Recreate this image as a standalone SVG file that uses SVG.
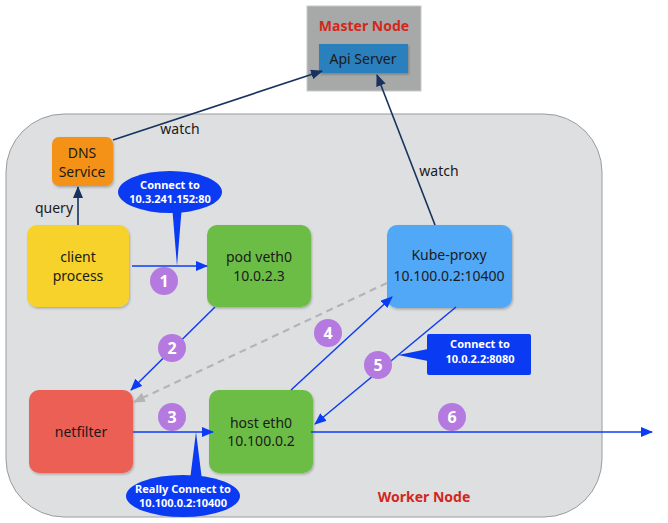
<svg xmlns="http://www.w3.org/2000/svg" width="668" height="523" viewBox="0 0 668 523">
<defs>
<style>
.t{font-family:"Noto Sans","Open Sans","DejaVu Sans",sans-serif;font-size:14px;fill:#1a1a1a;text-anchor:middle}
.b{font-family:"Noto Sans","Open Sans","DejaVu Sans",sans-serif;font-weight:bold;text-anchor:middle}
.w{font-size:11px;fill:#ffffff}
.r{font-size:14px;fill:#d2281a}
.n{stroke:none;filter:url(#sh)}
.num{fill:#b57ae0}
.blue{stroke:#0b3cf5;stroke-width:1.5;fill:none;marker-end:url(#ab)}
.navy{stroke:#17325e;stroke-width:1.6;fill:none;marker-end:url(#an)}
</style>
<filter id="sh" x="-10%" y="-10%" width="130%" height="130%">
<feDropShadow dx="1" dy="1.5" stdDeviation="1.2" flood-color="#000" flood-opacity="0.25"/>
</filter>
<marker id="ab" markerWidth="12" markerHeight="10" refX="11" refY="5" orient="auto" markerUnits="userSpaceOnUse"><path d="M0,0 L12,5 L0,10 Z" fill="#0b3cf5"/></marker>
<marker id="an" markerWidth="12" markerHeight="10" refX="11" refY="5" orient="auto" markerUnits="userSpaceOnUse"><path d="M0,0 L12,5 L0,10 Z" fill="#17325e"/></marker>
<marker id="ag" markerWidth="12" markerHeight="10" refX="11" refY="5" orient="auto" markerUnits="userSpaceOnUse"><path d="M0,0 L12,5 L0,10 Z" fill="#b4b4b4"/></marker>
</defs>
<rect width="668" height="523" fill="#ffffff"/>

<g id="worker-node">
<rect x="6" y="114" width="596" height="403" rx="58" ry="58" fill="#dedfe1" stroke="#9a9b9d" stroke-width="1"/>
<text class="b r" x="424" y="502">Worker Node</text>
</g>

<g id="master-node">
<rect x="307" y="6" width="114" height="85" fill="#a7a9a9" stroke="#c8c8c8" stroke-width="1"/>
<text class="b r" x="364" y="31">Master Node</text>
</g>

<g id="api-server">
<rect class="n" x="319" y="44" width="89" height="29" fill="#2c7fbd"/>
<text class="t" x="363" y="64">Api Server</text>
</g>

<g id="dns-service">
<rect class="n" x="52" y="137" width="61" height="49" rx="7" fill="#f39219"/>
<text class="t" x="82" y="158">DNS</text>
<text class="t" x="82" y="177">Service</text>
</g>

<g id="client-process">
<rect class="n" x="27" y="225" width="102" height="82" rx="10" fill="#f6d22a"/>
<text class="t" x="78" y="262">client</text>
<text class="t" x="78" y="281">process</text>
</g>

<g id="pod-veth0">
<rect class="n" x="207" y="225" width="104" height="82" rx="10" fill="#6cbd44"/>
<text class="t" x="259" y="262">pod veth0</text>
<text class="t" x="259" y="281">10.0.2.3</text>
</g>

<g id="kube-proxy">
<rect class="n" x="387" y="225" width="125" height="83" rx="10" fill="#51a8f6"/>
<text class="t" x="449" y="260">Kube-proxy</text>
<text class="t" x="449" y="281">10.100.0.2:10400</text>
</g>

<g id="netfilter">
<rect class="n" x="29" y="390" width="104" height="83" rx="10" fill="#eb5e55"/>
<text class="t" x="81" y="437">netfilter</text>
</g>

<g id="host-eth0">
<rect class="n" x="209" y="390" width="104" height="83" rx="10" fill="#6cbd44"/>
<text class="t" x="261" y="428">host eth0</text>
<text class="t" x="261" y="446">10.100.0.2</text>
</g>

<g id="connectors">
<path class="navy" d="M113,140 L322,71"/>
<text class="t" x="180" y="134">watch</text>
<path class="navy" d="M78,225 L78,187"/>
<text class="t" x="54" y="213">query</text>
<path class="navy" d="M435,225 L377,75"/>
<text class="t" x="439" y="176">watch</text>
<path class="blue" d="M132,266 L207,266"/>
<path class="blue" d="M215,307 L131,390"/>
<path d="M387,283 L134,402" stroke="#b4b4b4" stroke-width="2.2" stroke-dasharray="7,5" fill="none" marker-end="url(#ag)"/>
<path class="blue" d="M133,432 L213,432"/>
<path class="blue" d="M291,390 L392,297"/>
<path class="blue" d="M456,307 L315,424"/>
<path class="blue" d="M311,432 L652,432"/>
</g>

<g id="callouts">
<path d="M172,205 L182,205 L177,266 Z" fill="#0a3af2"/>
<ellipse cx="170" cy="192" rx="52" ry="21" fill="#0a3af2"/>
<text class="b w" x="170" y="189">Connect to</text>
<text class="b w" x="170" y="203">10.3.241.152:80</text>
<path d="M190,480 L202,480 L196,432 Z" fill="#0a3af2"/>
<ellipse cx="183" cy="496" rx="57" ry="21" fill="#0a3af2"/>
<text class="b w" x="183" y="493">Really Connect to</text>
<text class="b w" x="183" y="507">10.100.0.2:10400</text>
<path d="M428,349 L428,361 L398,355 Z" fill="#0a3af2"/>
<rect x="427" y="334" width="104" height="41" rx="2" fill="#0a3af2"/>
<text class="b w" x="480" y="348">Connect to</text>
<text class="b w" x="480" y="363">10.0.2.2:8080</text>
</g>

<g id="steps">
<circle class="num" cx="164" cy="281" r="14"/>
<circle class="num" cx="172" cy="348" r="14"/>
<circle class="num" cx="172" cy="417" r="14"/>
<circle class="num" cx="328" cy="333" r="14"/>
<circle class="num" cx="378" cy="365" r="14"/>
<circle class="num" cx="452" cy="417" r="14"/>
<g class="b" style="font-size:16px;fill:#fff">
<text x="164" y="287">1</text>
<text x="172" y="354">2</text>
<text x="172" y="423">3</text>
<text x="328" y="339">4</text>
<text x="378" y="371">5</text>
<text x="452" y="423">6</text>
</g>
</g>
</svg>
